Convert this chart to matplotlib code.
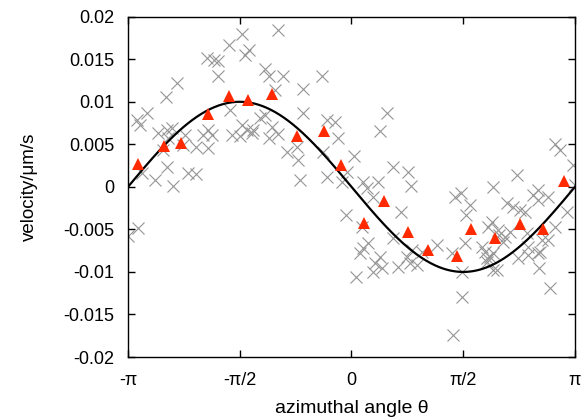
"""
Velocity vs. azimuthal angle: binned means, raw samples and a sine fit.
"""

import matplotlib

matplotlib.use("Agg")
import matplotlib.pyplot as plt
import numpy as np

plt.rcParams["font.family"] = ["Liberation Sans", "DejaVu Sans"]

# raw samples (gray crosses)
raw_angle = [
    -1.543, -1.722, -1.441, -1.497, -2.035, -1.929, -1.881, -1.881, -1.216, -1.160,
    -1.026, -2.457, -2.612, -1.075, -3.019, -2.879, -2.973, -2.716, -2.598, -2.527,
    -2.575, -2.341, -2.364, -2.190, -2.013, -2.083, -2.013, -1.957, -1.708, -1.684,
    -1.543, -1.473, -1.403, -1.380, -1.567, -1.286, -1.216, -1.122, -1.160, -1.033,
    -2.598, -2.762, -2.505, -2.303, -2.190, -2.949, -2.646, -2.997, -3.138,
    -0.959, -0.419, -0.678, -0.678, -0.349, -0.232, -0.186, -0.770, -0.911, -0.748,
    -0.396, -0.724, -0.349, -0.138, -0.067, -0.077,
    0.495, 0.401, 0.039, 0.588, 0.798, 0.836, 0.166, 0.377, 0.214, 0.306,
    1.455, 0.692, 0.143, 0.236, 0.166, 0.119, 0.401, 0.330, 0.425, 0.306,
    0.588, 0.649, 0.776, 0.846, 0.822, 0.917, 0.995, 1.198, 1.409, 0.063,
    1.539, 1.666, 1.610, 1.549, 1.549, 1.431, 1.596, 1.877, 1.901, 1.985,
    1.993, 1.971, 1.985, 2.182, 2.274, 2.369, 2.439, 2.078, 2.134, 2.228,
    2.345, 2.485, 2.556, 2.626, 2.766, 2.463, 2.650, 2.640, 2.766, 2.861,
    2.790, 3.025, 2.322, 2.861, 2.931, 3.118, 3.142, 2.622, 1.923, 2.064,
    2.158, 1.830, 1.947, 1.901, 2.041, 2.485, 2.674, 2.626,
]
raw_velocity = [
    0.0180, 0.01671, 0.01604, 0.01553, 0.01514, 0.01486, 0.01474, 0.01298, 0.01385, 0.01298,
    0.01841, 0.0122, 0.01062, 0.01141, 0.00788, 0.00867, 0.00729, 0.00632, 0.00671, 0.00691,
    0.00573, 0.00612, 0.00494, 0.00474, 0.00455, 0.00612, 0.00671, 0.00612, 0.00906, 0.00612,
    0.00729, 0.00671, 0.00632, 0.00671, 0.00592, 0.00808, 0.00847, 0.00709, 0.00573, 0.00624,
    0.00239, 0.00082, 0.00006, 0.00161, 0.00147, 0.00161, 0.00435, -0.00486, -0.00576,
    0.01298, 0.01298, 0.01149, 0.00867, 0.00788, 0.00768, 0.00573, 0.00474, 0.00415, 0.00318,
    0.00415, 0.00082, 0.00121, 0.00062, 0.0018, -0.00329,
    0.00867, 0.00651, 0.00365, 0.00239, 0.0018, 0.00006, 0.00062, 0.00062, -0.00015, -0.00114,
    -0.00114, -0.00291, -0.00474, -0.00655, -0.00721, -0.0078, -0.0082, -0.00898, -0.00956, -0.00996,
    -0.00604, -0.00938, -0.0082, -0.00741, -0.00898, -0.00918, -0.00761, -0.00682, -0.0078, -0.01055,
    -0.00071, -0.00212, -0.00329, -0.00996, -0.01298, -0.01741, -0.00662, -0.00761, -0.00839, -0.0078,
    -0.00976, -0.00408, 0.00004, -0.00192, -0.00232, -0.00271, -0.00291, -0.00565, -0.00644, -0.00526,
    -0.00839, -0.008, -0.00094, -0.00153, -0.00114, -0.00545, -0.00761, -0.00956, -0.00624, -0.00467,
    -0.01192, -0.00291, 0.00135, 0.00506, 0.00435, 0.00259, 0.00024, -0.00035, -0.00467, -0.00506,
    -0.00585, -0.00702, -0.0082, -0.00879, -0.00976, -0.00702, -0.00624, -0.0078,
]

# binned means (red triangles)
bin_angle = [
    -2.997, -2.631, -2.401, -2.021, -1.718, -1.451, -1.113, -0.762, -0.382, -0.141,
    0.180, 0.457, 0.790, 1.080, 1.486, 1.676, 2.013, 2.369, 2.688, 2.983,
]
bin_velocity = [
    0.00267, 0.00486, 0.00521, 0.00859, 0.01071, 0.01024, 0.01094, 0.00592, 0.00662, 0.00256,
    -0.00427, -0.00165, -0.00533, -0.00741, -0.00812, -0.00498, -0.00604, -0.00435, -0.00491, 0.00071,
]

# sine fit v = -A sin(theta)
FIT_AMPLITUDE = 0.01

X_TICKS = [-np.pi, -np.pi / 2, 0, np.pi / 2, np.pi]
X_TICK_LABELS = ["-π", "-π/2", "0", "π/2", "π"]
Y_TICKS = [-0.02, -0.015, -0.01, -0.005, 0, 0.005, 0.01, 0.015, 0.02]
Y_TICK_LABELS = ["-0.02", "-0.015", "-0.01", "-0.005", "0", "0.005", "0.01", "0.015", "0.02"]


def main():
    fig = plt.figure(figsize=(5.86, 4.20), dpi=100)
    ax = fig.add_axes([0.2184, 0.15, 0.7628, 0.8102])

    ax.plot(raw_angle, raw_velocity, linestyle="none", marker="x", markersize=8.5,
            markeredgewidth=0.8, color="#959595", zorder=2)

    theta = np.linspace(-np.pi, np.pi, 400)
    ax.plot(theta, -FIT_AMPLITUDE * np.sin(theta), color="black", linewidth=1.6, zorder=3)

    ax.plot(bin_angle, bin_velocity, linestyle="none", marker="^", markersize=8.5,
            color="#ff2a00", markeredgewidth=0, zorder=4)

    ax.set_xlim(-np.pi, np.pi)
    ax.set_ylim(-0.02, 0.02)
    ax.set_xticks(X_TICKS)
    ax.set_xticklabels(X_TICK_LABELS)
    ax.set_yticks(Y_TICKS)
    ax.set_yticklabels(Y_TICK_LABELS)
    ax.tick_params(direction="in", length=5, width=1, top=True, right=True, labelsize=13)
    ax.tick_params(axis="y", pad=10)
    ax.tick_params(axis="x", pad=11)
    for spine in ax.spines.values():
        spine.set_linewidth(1)

    ax.set_xlabel("azimuthal angle θ", fontsize=14, labelpad=8)
    ax.set_ylabel("velocity/μm/s", fontsize=13.5, labelpad=18)

    fig.savefig("out.png", dpi=100)
    plt.close(fig)


if __name__ == "__main__":
    main()
